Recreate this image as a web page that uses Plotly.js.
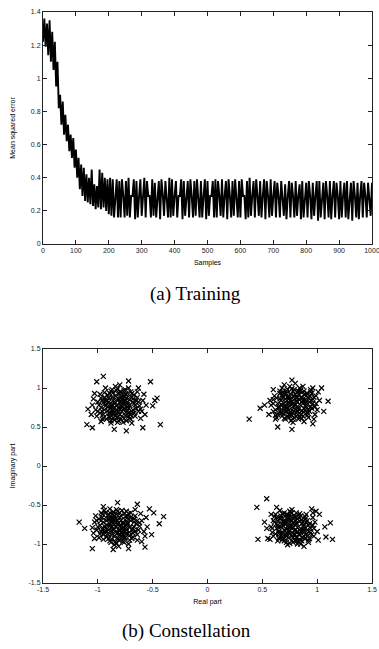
<!DOCTYPE html>
<html><head><meta charset="utf-8">
<script src="https://cdn.plot.ly/plotly-3.0.1.min.js"></script>
<style>html,body{margin:0;padding:0;background:#fff}#plot{width:379px;height:649px}</style>
</head><body><div id="plot"></div>
<script>
// ---- (a) Training: mean squared error, one value every 4 samples from 0 to 1000
const mseStep = 4;
const mse = [
1.22,1.36,1.19,1.33,1.14,1.35,1.10,1.28,1.05,1.22,
0.95,1.10,0.82,0.90,0.72,0.86,0.66,0.78,0.62,0.72,
0.56,0.66,0.52,0.64,0.46,0.57,0.40,0.52,0.33,0.48,
0.29,0.46,0.26,0.42,0.25,0.40,0.24,0.45,0.23,0.36,
0.21,0.35,0.22,0.45,0.21,0.43,0.22,0.40,0.20,0.39,
0.18,0.40,0.17,0.39,0.16,0.29,0.39,0.16,0.38,0.16,
0.39,0.29,0.16,0.38,0.17,0.40,0.16,0.29,0.29,0.39,
0.15,0.38,0.16,0.29,0.39,0.17,0.30,0.40,0.16,0.38,
0.29,0.29,0.16,0.39,0.17,0.37,0.16,0.29,0.38,0.15,
0.39,0.30,0.17,0.38,0.29,0.16,0.40,0.16,0.39,0.17,
0.29,0.38,0.16,0.29,0.29,0.39,0.15,0.38,0.17,0.29,
0.38,0.16,0.39,0.29,0.16,0.38,0.17,0.39,0.29,0.16,
0.38,0.16,0.29,0.39,0.15,0.38,0.17,0.29,0.29,0.38,
0.16,0.39,0.16,0.38,0.29,0.17,0.39,0.16,0.29,0.38,
0.15,0.39,0.29,0.16,0.38,0.17,0.39,0.29,0.16,0.38,
0.16,0.39,0.29,0.29,0.15,0.38,0.16,0.40,0.17,0.29,
0.38,0.16,0.39,0.29,0.17,0.38,0.16,0.29,0.39,0.15,
0.38,0.29,0.16,0.39,0.17,0.29,0.38,0.16,0.37,0.29,
0.16,0.38,0.29,0.17,0.36,0.15,0.29,0.38,0.16,0.37,
0.29,0.16,0.38,0.17,0.29,0.36,0.15,0.38,0.16,0.29,
0.37,0.16,0.38,0.29,0.15,0.37,0.17,0.29,0.38,0.14,
0.38,0.16,0.29,0.37,0.15,0.38,0.29,0.16,0.38,0.15,
0.29,0.38,0.16,0.37,0.29,0.15,0.38,0.16,0.29,0.37,
0.16,0.38,0.15,0.29,0.37,0.14,0.38,0.29,0.16,0.37,
0.15,0.29,0.38,0.16,0.37,0.29,0.16,0.37,0.29,0.17,
0.37
];
const sampleTicks = [0,100,200,300,400,500,600,700,800,900,1000];
const mseTicks = [0,0.2,0.4,0.6,0.8,1,1.2,1.4];
const mseTickText = ['0','0.2','0.4','0.6','0.8','1','1.2','1.4'];

// ---- (b) Constellation: received symbols [real, imaginary]
const clusterTL = [
[-0.82,0.78],[-0.87,0.72],[-0.77,0.83],[-0.92,0.80],[-0.72,0.74],[-0.84,0.90],[-0.80,0.66],[-0.97,0.75],[-0.67,0.80],[-0.90,0.64],
[-0.74,0.92],[-0.86,0.84],[-0.78,0.70],[-0.94,0.88],[-0.70,0.66],[-0.83,0.97],[-0.88,0.58],[-0.76,0.61],[-1.00,0.82],[-0.64,0.88],
[-0.81,0.74],[-0.85,0.80],[-0.73,0.79],[-0.91,0.71],[-0.79,0.87],[-0.95,0.66],[-0.68,0.72],[-0.89,0.93],[-0.75,0.98],[-1.02,0.72],
[-0.62,0.77],[-0.86,0.68],[-0.78,0.76],[-0.93,0.85],[-0.71,0.85],[-0.82,0.62],[-0.98,0.92],[-0.66,0.64],[-0.84,1.02],[-0.77,0.56],
[-1.04,0.86],[-0.60,0.70],[-0.88,0.77],[-0.80,0.82],[-0.72,0.68],[-0.96,0.70],[-0.69,0.93],[-0.87,0.98],[-0.75,0.65],[-1.01,0.64],
[-0.63,0.82],[-0.90,0.87],[-0.81,0.70],[-0.83,0.85],[-0.74,0.87],[-0.92,0.60],[-0.65,0.74],[-0.79,0.95],[-0.99,0.78],[-0.70,0.60],
[-0.86,0.62],[-0.76,0.89],[-0.94,0.94],[-0.59,0.84],[-1.05,0.78],[-0.82,0.56],[-0.72,1.00],[-0.89,0.68],[-0.67,0.68],[-0.85,0.75],
[-0.78,0.80],[-0.91,0.76],[-0.73,0.72],[-0.96,0.84],[-0.64,0.95],[-0.88,0.55],[-0.80,1.04],[-1.03,0.93],[-0.61,0.61],[-0.77,0.72],
[-0.84,0.69],[-0.71,0.78],[-0.95,0.62],[-0.68,0.86],[-0.81,0.92],[-0.90,0.82],[-0.74,0.58],[-0.98,0.68],[-0.86,0.94],[-0.75,0.84],
[-0.57,0.66],[-0.58,0.92],[-0.63,1.00],[-0.93,1.00],[-1.06,0.66],[-0.69,0.55],[-0.56,0.78],[-0.97,0.57],
[-0.79,0.77],[-0.84,0.81],[-0.76,0.74],[-0.88,0.74],[-0.81,0.86],[-0.73,0.82],[-0.86,0.66],[-0.78,0.64],[-0.91,0.91],[-0.69,0.70],
[-0.83,0.72],[-0.75,0.92],[-0.93,0.77],[-0.70,0.89],[-0.87,0.88],[-0.79,0.60],[-0.66,0.78],[-0.95,0.81],[-0.80,0.95],[-0.72,0.64],
[-0.85,0.59],[-0.77,0.86],[-0.89,0.62],[-0.68,0.82],[-0.82,0.99],[-0.97,0.87],[-0.74,0.69],[-0.87,0.79],[-0.63,0.70],[-0.90,0.68],
[-0.80,0.73],[-0.76,0.97],[-0.94,0.72],[-0.71,0.61],[-0.84,0.64],[-0.67,0.91],[-1.00,0.70],[-0.78,0.90],[-0.88,0.96],[-0.73,0.76],
[-0.83,0.67],[-0.92,0.83],[-0.65,0.84],[-0.79,0.83],[-0.86,0.71],[-0.70,0.95],[-0.96,0.60],[-0.75,0.79],[-0.81,0.58],[-0.61,0.73],
[-1.10,0.53],[-1.05,0.49],[-0.95,1.15],[-1.01,1.08],[-0.43,0.53],[-0.52,1.08],[-0.46,0.87],[-0.50,0.77],
[-0.74,0.45],[-0.85,0.47],[-0.59,0.49],[-1.09,0.73],[-0.72,1.09],[-0.48,0.84]
];
const clusterTR = [
[0.78,0.80],[0.72,0.76],[0.84,0.85],[0.69,0.88],[0.88,0.74],[0.76,0.92],[0.81,0.68],[0.64,0.80],[0.93,0.82],[0.74,0.66],
[0.86,0.94],[0.70,0.71],[0.80,0.86],[0.91,0.68],[0.66,0.93],[0.83,0.75],[0.75,0.84],[0.97,0.88],[0.62,0.72],[0.79,0.62],
[0.87,0.80],[0.73,0.98],[0.94,0.76],[0.68,0.64],[0.82,0.95],[0.77,0.72],[0.90,0.90],[0.60,0.85],[0.85,0.66],[0.71,0.82],
[0.99,0.80],[0.76,0.58],[0.84,1.00],[0.65,0.76],[0.92,0.62],[0.80,0.78],[0.73,0.89],[0.89,0.85],[0.67,0.68],[0.86,0.71],
[0.78,0.96],[0.95,0.93],[0.61,0.90],[0.83,0.60],[0.70,0.77],[0.88,0.96],[0.74,0.62],[1.00,0.72],[0.79,0.90],[0.64,0.66],
[0.81,0.83],[0.93,0.70],[0.69,0.95],[0.87,0.64],[0.76,0.79],[0.96,0.86],[0.72,0.70],[0.85,0.88],[0.58,0.78],[0.90,0.79],
[0.77,0.65],[0.83,0.92],[0.66,0.86],[0.98,0.66],[0.75,1.02],[0.89,0.72],[0.71,0.60],[0.80,0.73],[0.94,0.98],[0.63,0.62],
[0.86,0.82],[0.74,0.86],[1.02,0.84],[0.68,0.78],[0.82,0.70],[0.91,0.93],[0.78,0.56],[0.60,0.70],[0.87,1.02],[0.73,0.75],
[0.95,0.74],[0.79,0.98],[0.66,0.96],[0.84,0.63],[0.92,0.87],[0.70,0.92],[0.57,0.84],[0.82,0.88],[0.97,0.60],[0.76,0.69],
[0.62,0.60],[1.01,0.95],[0.56,0.66],[0.88,0.57],[0.68,1.00],
[0.79,0.77],[0.74,0.81],[0.83,0.73],[0.70,0.74],[0.86,0.88],[0.77,0.87],[0.81,0.64],[0.67,0.84],[0.90,0.76],[0.72,0.93],
[0.84,0.79],[0.76,0.66],[0.93,0.90],[0.69,0.67],[0.80,0.92],[0.88,0.69],[0.63,0.87],[0.96,0.80],[0.74,0.71],[0.85,0.97],
[0.78,0.60],[0.71,0.86],[0.91,0.65],[0.65,0.74],[0.82,0.82],[0.94,0.95],[0.73,0.64],[0.87,0.84],[0.60,0.80],[0.77,0.99],
[0.84,0.68],[0.68,0.91],[0.98,0.76],[0.75,0.77],[0.89,0.92],[0.70,0.61],[0.81,0.88],[0.92,0.72],[0.66,0.70],[0.79,0.70],
[0.86,0.61],[0.72,0.96],[0.95,0.84],[0.77,0.83],[0.62,0.65],[0.83,0.96],[0.90,0.82],[0.67,0.79],[0.74,0.89],[0.99,0.90],
[0.38,0.60],[1.10,0.83],[1.04,1.00],[0.96,1.00],[0.77,1.10],[0.96,0.54],[0.64,0.50],[0.77,0.47],
[0.48,0.74],[0.52,0.78],[0.70,1.04],[0.60,0.98],[1.06,0.70],[0.80,1.06]
];
const clusterBL = [
[-0.83,-0.78],[-0.88,-0.72],[-0.78,-0.84],[-0.93,-0.80],[-0.73,-0.74],[-0.85,-0.90],[-0.80,-0.66],[-0.98,-0.76],[-0.68,-0.80],[-0.91,-0.64],
[-0.75,-0.92],[-0.87,-0.84],[-0.79,-0.70],[-0.95,-0.88],[-0.70,-0.66],[-0.84,-0.97],[-0.89,-0.60],[-0.76,-0.61],[-1.01,-0.82],[-0.64,-0.88],
[-0.82,-0.74],[-0.86,-0.80],[-0.74,-0.79],[-0.92,-0.70],[-0.80,-0.87],[-0.96,-0.66],[-0.67,-0.72],[-0.90,-0.93],[-0.76,-0.98],[-1.03,-0.72],
[-0.62,-0.77],[-0.87,-0.68],[-0.79,-0.76],[-0.94,-0.85],[-0.71,-0.85],[-0.83,-0.62],[-0.99,-0.92],[-0.66,-0.64],[-0.85,-1.01],[-0.78,-0.57],
[-1.04,-0.86],[-0.60,-0.70],[-0.89,-0.77],[-0.81,-0.82],[-0.72,-0.68],[-0.97,-0.70],[-0.69,-0.93],[-0.88,-0.98],[-0.75,-0.65],[-1.02,-0.64],
[-0.63,-0.82],[-0.91,-0.87],[-0.82,-0.70],[-0.84,-0.85],[-0.74,-0.87],[-0.93,-0.60],[-0.65,-0.74],[-0.80,-0.95],[-1.00,-0.78],[-0.70,-0.60],
[-0.86,-0.62],[-0.77,-0.89],[-0.95,-0.94],[-0.58,-0.84],[-1.05,-0.79],[-0.83,-0.56],[-0.72,-1.00],[-0.90,-0.68],[-0.67,-0.68],[-0.85,-0.75],
[-0.78,-0.80],[-0.92,-0.76],[-0.73,-0.72],[-0.97,-0.84],[-0.64,-0.95],[-0.89,-0.55],[-0.81,-1.03],[-1.03,-0.93],[-0.61,-0.61],[-0.77,-0.72],
[-0.84,-0.69],[-0.71,-0.78],[-0.96,-0.62],[-0.68,-0.86],[-0.82,-0.92],[-0.90,-0.82],[-0.74,-0.58],[-0.99,-0.68],[-0.87,-0.94],[-0.75,-0.84],
[-0.56,-0.66],[-0.57,-0.90],[-0.60,-0.97],[-0.55,-0.78],[-0.66,-0.56],[-0.94,-0.57],
[-0.80,-0.77],[-0.85,-0.81],[-0.77,-0.74],[-0.89,-0.74],[-0.82,-0.86],[-0.74,-0.82],[-0.87,-0.66],[-0.79,-0.64],[-0.92,-0.91],[-0.70,-0.70],
[-0.84,-0.72],[-0.76,-0.92],[-0.94,-0.77],[-0.71,-0.89],[-0.88,-0.88],[-0.80,-0.60],[-0.67,-0.78],[-0.96,-0.81],[-0.81,-0.95],[-0.73,-0.64],
[-0.86,-0.59],[-0.78,-0.86],[-0.90,-0.62],[-0.69,-0.82],[-0.83,-0.99],[-0.98,-0.87],[-0.75,-0.69],[-0.88,-0.79],[-0.64,-0.70],[-0.91,-0.68],
[-0.81,-0.73],[-0.77,-0.97],[-0.95,-0.72],[-0.72,-0.61],[-0.85,-0.64],[-0.68,-0.91],[-1.01,-0.70],[-0.79,-0.90],[-0.89,-0.96],[-0.74,-0.76],
[-0.84,-0.67],[-0.93,-0.83],[-0.66,-0.84],[-0.80,-0.83],[-0.87,-0.71],[-0.71,-0.95],[-0.97,-0.60],[-0.76,-0.79],[-0.82,-0.58],[-0.62,-0.73],
[-1.17,-0.72],[-1.12,-0.80],[-0.40,-0.65],[-0.44,-0.74],[-0.49,-0.60],[-1.05,-1.06],[-0.57,-1.04],[-0.72,-1.06],
[-0.86,-1.07],[-0.82,-0.47],[-0.64,-0.49],[-0.95,-0.52],[-0.51,-0.88],[-0.53,-0.55]
];
const clusterBR = [
[0.76,-0.78],[0.71,-0.72],[0.82,-0.84],[0.67,-0.86],[0.86,-0.74],[0.74,-0.92],[0.79,-0.66],[0.63,-0.80],[0.91,-0.82],[0.73,-0.64],
[0.84,-0.94],[0.69,-0.71],[0.78,-0.86],[0.89,-0.68],[0.65,-0.93],[0.81,-0.75],[0.74,-0.84],[0.95,-0.88],[0.61,-0.72],[0.77,-0.60],
[0.85,-0.80],[0.72,-0.98],[0.92,-0.76],[0.67,-0.64],[0.80,-0.95],[0.75,-0.72],[0.88,-0.90],[0.59,-0.85],[0.83,-0.66],[0.70,-0.82],
[0.97,-0.80],[0.75,-0.58],[0.82,-1.00],[0.64,-0.76],[0.90,-0.62],[0.78,-0.78],[0.71,-0.89],[0.87,-0.85],[0.66,-0.68],[0.84,-0.71],
[0.77,-0.96],[0.93,-0.93],[0.60,-0.90],[0.81,-0.60],[0.69,-0.77],[0.86,-0.96],[0.73,-0.62],[0.98,-0.72],[0.77,-0.90],[0.63,-0.66],
[0.79,-0.83],[0.91,-0.70],[0.68,-0.95],[0.85,-0.64],[0.74,-0.79],[0.94,-0.86],[0.70,-0.70],[0.83,-0.88],[0.58,-0.78],[0.88,-0.79],
[0.76,-0.65],[0.81,-0.92],[0.65,-0.86],[0.96,-0.66],[0.73,-1.01],[0.87,-0.72],[0.70,-0.60],[0.78,-0.73],[0.92,-0.98],[0.62,-0.62],
[0.84,-0.82],[0.72,-0.86],[1.00,-0.84],[0.67,-0.78],[0.80,-0.70],[0.89,-0.93],[0.77,-0.56],[0.60,-0.70],[0.85,-1.00],[0.71,-0.75],
[0.93,-0.74],[0.78,-0.98],[0.64,-0.96],[0.83,-0.63],[0.90,-0.87],[0.68,-0.91],[0.58,-0.62],[0.80,-0.88],[0.96,-0.60],[0.75,-0.69],
[1.01,-0.95],[0.99,-0.58],[0.66,-0.57],[0.57,-0.94],
[0.77,-0.77],[0.72,-0.81],[0.81,-0.73],[0.68,-0.74],[0.84,-0.88],[0.75,-0.87],[0.79,-0.64],[0.65,-0.84],[0.88,-0.76],[0.70,-0.93],
[0.82,-0.79],[0.74,-0.66],[0.91,-0.90],[0.67,-0.67],[0.78,-0.92],[0.86,-0.69],[0.62,-0.87],[0.94,-0.80],[0.72,-0.71],[0.83,-0.97],
[0.76,-0.60],[0.69,-0.86],[0.89,-0.65],[0.63,-0.74],[0.80,-0.82],[0.92,-0.95],[0.71,-0.64],[0.85,-0.84],[0.59,-0.80],[0.75,-0.99],
[0.82,-0.68],[0.66,-0.91],[0.96,-0.76],[0.73,-0.77],[0.87,-0.92],[0.68,-0.61],[0.79,-0.88],[0.90,-0.72],[0.64,-0.70],[0.77,-0.70],
[0.84,-0.61],[0.70,-0.96],[0.93,-0.84],[0.75,-0.83],[0.61,-0.65],[0.81,-0.96],[0.88,-0.82],[0.65,-0.79],[0.72,-0.89],[0.97,-0.90],
[0.45,-0.53],[0.54,-0.42],[0.46,-0.94],[1.14,-0.94],[1.08,-0.91],[1.12,-0.73],[1.07,-0.78],[0.54,-0.80],
[0.52,-0.72],[0.55,-0.93],[0.63,-0.53],[0.88,-1.03],[1.02,-0.62],[0.95,-0.55]
];
const iqTicks = [-1.5,-1,-0.5,0,0.5,1,1.5];
const iqTickText = ['-1.5','-1','-0.5','0','0.5','1','1.5'];

const W = 379, H = 649;
const symbols = clusterTL.concat(clusterTR, clusterBL, clusterBR);
const tickFont = {family:'Liberation Sans, Arial, sans-serif', size:7, color:'#222'};
const titleFont = {family:'Liberation Sans, Arial, sans-serif', size:7, color:'#000'};
const axBase = {showgrid:false, zeroline:false, showline:true, linecolor:'#222', linewidth:1,
  mirror:'ticks', ticks:'inside', ticklen:4, tickwidth:1, tickcolor:'#222', tickfont:tickFont,
  ticklabeloverflow:'allow', fixedrange:true};

const traces = [
  {type:'scatter', mode:'lines', x0:0, dx:mseStep, y:mse, xaxis:'x', yaxis:'y',
   line:{color:'#000', width:1.9}, hoverinfo:'skip'},
  {type:'scatter', mode:'markers', x:symbols.map(p=>p[0]), y:symbols.map(p=>p[1]), xaxis:'x2', yaxis:'y2',
   marker:{symbol:'x-thin', size:5, color:'#000', line:{color:'#000', width:1.2}}, hoverinfo:'skip'}
];

const layout = {
  width:W, height:H, margin:{l:0,r:0,t:0,b:0}, showlegend:false,
  paper_bgcolor:'#fff', plot_bgcolor:'#fff',
  xaxis:Object.assign({}, axBase, {domain:[43/W, 372/W], range:[0,1000], tickvals:sampleTicks,
    ticktext:sampleTicks.map(String), anchor:'y',
    title:{text:'Samples', font:titleFont, standoff:6}}),
  yaxis:Object.assign({}, axBase, {domain:[1-244/H, 1-12/H], range:[0,1.4], tickvals:mseTicks,
    ticktext:mseTickText, anchor:'x',
    title:{text:'Mean squared error', font:titleFont, standoff:14}}),
  xaxis2:Object.assign({}, axBase, {domain:[43/W, 372/W], range:[-1.5,1.5], tickvals:iqTicks,
    ticktext:iqTickText, anchor:'y2',
    title:{text:'Real part', font:titleFont, standoff:6}}),
  yaxis2:Object.assign({}, axBase, {domain:[1-583/H, 1-349/H], range:[-1.5,1.5], tickvals:iqTicks,
    ticktext:iqTickText, anchor:'x2',
    title:{text:'Imaginary part', font:titleFont, standoff:12}}),
  annotations:[
    {text:'(a) Training', xref:'paper', yref:'paper', x:195/W, y:1-294/H, showarrow:false,
     xanchor:'center', yanchor:'middle', font:{family:'Liberation Serif, Times New Roman, serif', size:19, color:'#000'}},
    {text:'(b) Constellation', xref:'paper', yref:'paper', x:186/W, y:1-631/H, showarrow:false,
     xanchor:'center', yanchor:'middle', font:{family:'Liberation Serif, Times New Roman, serif', size:19, color:'#000'}}
  ]
};
Plotly.newPlot('plot', traces, layout, {displayModeBar:false, staticPlot:true});
</script></body></html>
